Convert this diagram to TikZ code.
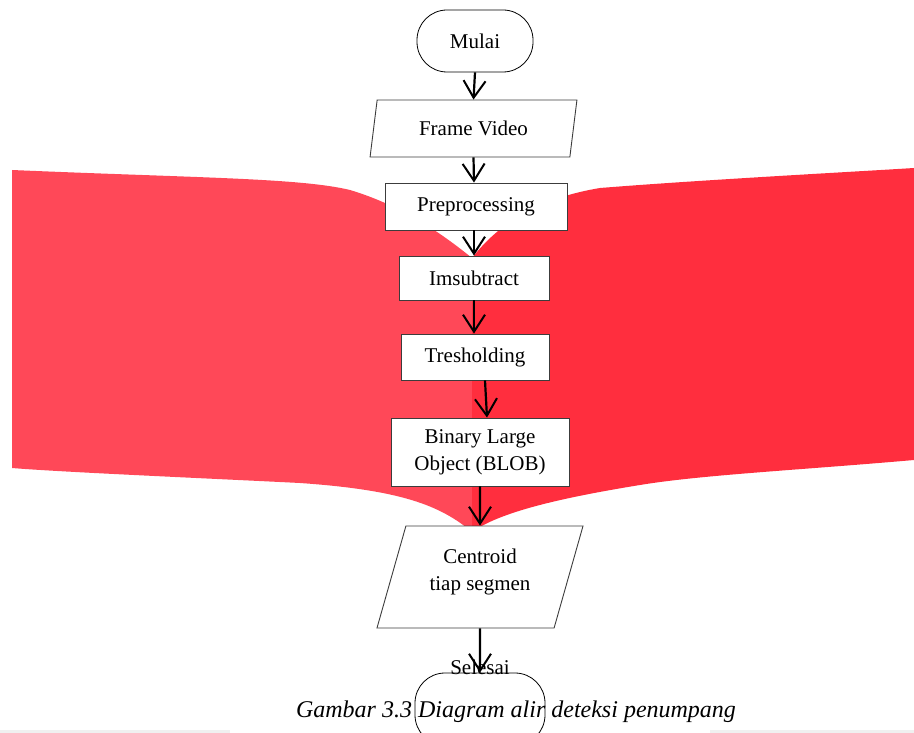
\documentclass[tikz,border=0pt]{standalone}
\usepackage{fontspec}
\setmainfont{Liberation Serif}
\usetikzlibrary{shapes.geometric,arrows.meta,calc}
\definecolor{pageL}{RGB}{255,72,88}
\definecolor{pageR}{RGB}{255,46,62}
\definecolor{edgegray}{RGB}{60,60,60}
\begin{document}
\begin{tikzpicture}[x=1pt,y=-1pt,
  every node/.style={font=\fontsize{21}{27}\selectfont, inner sep=0pt},
  procbox/.style={draw=edgegray, line width=0.9pt, fill=white, rectangle, align=center},
  iobox/.style={draw=edgegray, line width=0.9pt, fill=white, trapezium, trapezium stretches=true, align=center},
  termbox/.style={draw=black, line width=0.8pt, fill=white, rectangle, rounded corners=30pt},
  arr/.style={draw=black, line width=2.2pt, -{Straight Barb[length=17pt,width=22pt,line width=2pt]}}
]
\useasboundingbox (0,0) rectangle (914,733);
\clip (0,0) rectangle (914,733);
\fill[white] (0,0) rectangle (914,733);
% book-like red background
\fill[pageL] (12,170) .. controls (200,178) and (300,178) .. (350,190)
  .. controls (400,205) and (440,232) .. (472,258)
  -- (472,532)
  .. controls (440,505) and (400,490) .. (300,483)
  .. controls (200,478) and (60,472) .. (12,468) -- cycle;
\fill[pageR] (472,258) .. controls (500,222) and (540,198) .. (600,188)
  .. controls (700,180) and (850,172) .. (914,168)
  -- (914,460)
  .. controls (800,470) and (700,475) .. (640,485)
  .. controls (560,498) and (500,512) .. (472,532) -- cycle;
\fill[gray!12] (0,730) rectangle (230,733);
\fill[gray!12] (710,730) rectangle (914,733);

% nodes
\node[termbox, minimum width=116pt, minimum height=62pt] (mulai) at (475,41) {Mulai};
\node[iobox, trapezium left angle=75, trapezium right angle=105, minimum width=207pt, minimum height=57pt] (frame) at (473.5,128.5) {Frame Video};
\node[procbox, minimum width=182pt, minimum height=47pt] (prep) at (476,206.5) {Preprocessing};
\node[procbox, minimum width=150pt, minimum height=44pt] (ims) at (474,278) {Imsubtract};
\node[procbox, minimum width=148pt, minimum height=46pt] (tres) at (475,357) {Tresholding};
\node[procbox, minimum width=178pt, minimum height=68pt] (blob) at (480,452) {Binary Large\\Object (BLOB)};
\node[iobox, trapezium left angle=78, trapezium right angle=102, minimum width=206pt, minimum height=102pt] (cent) at (480,577) {\phantom{x}};
\node[align=center] (centtext) at (480,572) {Centroid\\tiap segmen};
\node[termbox, minimum width=130pt, minimum height=72pt] (endshape) at (480,709) {\phantom{x}};
\node (selesai) at (480,667) {Selesai};

% connectors
\draw[arr] (mulai.south) -- (frame.north);
\draw[arr] (frame.south) -- ([xshift=-2pt]prep.north);
\draw[arr] ([xshift=-2pt]prep.south) -- (ims.north);
\draw[arr] (ims.south) -- ([xshift=-1pt]tres.north);
\draw[arr] ([xshift=10pt]tres.south) -- ([xshift=7pt]blob.north);
\draw[arr] (blob.south) -- (cent.north);
\draw[arr] (cent.south) -- (endshape.north);

% caption
\node[font=\fontsize{24}{28}\selectfont\itshape] (caption) at (516,712) {Gambar 3.3 Diagram alir deteksi penumpang};
\end{tikzpicture}
\end{document}
